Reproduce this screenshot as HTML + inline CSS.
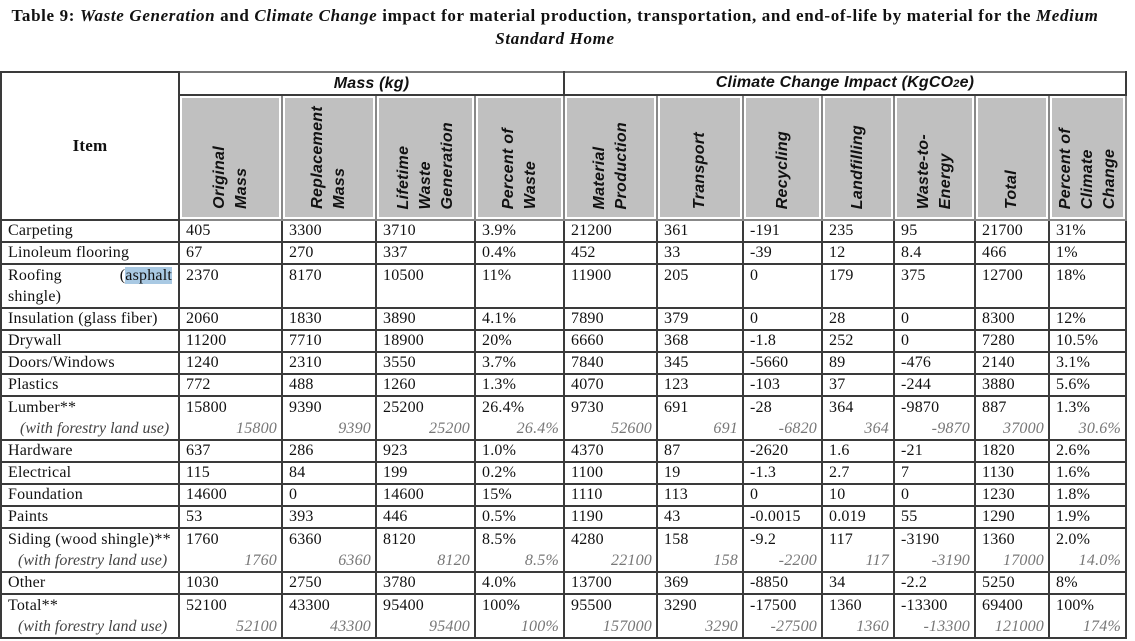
<!DOCTYPE html>
<html><head><meta charset="utf-8"><style>
body{margin:0;background:#fff;width:1135px;height:641px;overflow:hidden;font-family:"Liberation Serif",serif;color:#111}
.title{position:absolute;left:0;top:4px;width:1110px;text-align:center;font-weight:bold;font-size:17px;letter-spacing:0.65px;line-height:23px}
table{position:absolute;left:0;top:71px;border-collapse:collapse;table-layout:fixed;font-size:16px;letter-spacing:0.2px}
td,th{border:2px solid #3a3a3a;padding:0 0 0 6px;vertical-align:top;line-height:20px;overflow:hidden;white-space:nowrap}
tr.s td{height:20px;line-height:19px}
tr.d td{height:42px;line-height:21px}
th.g{background:#c0c0c0;box-shadow:inset 0 0 0 2px #fff;vertical-align:bottom;padding:0 0 4px 0;border-color:#888}
th .v{writing-mode:vertical-rl;transform:rotate(180deg);font-family:"Liberation Sans",sans-serif;font-style:italic;font-weight:bold;font-size:16px;line-height:22px;letter-spacing:0.3px;text-align:left;margin:0 auto;display:inline-block;white-space:nowrap}
th.g{text-align:center}
th.top{font-family:"Liberation Sans",sans-serif;font-style:italic;font-weight:bold;font-size:16px;vertical-align:middle;padding:0;height:20px;border-top-color:#777}
th.item{font-size:17px;font-weight:bold;vertical-align:middle;text-align:center;padding:0}
.f{display:block;font-style:italic;color:#777;text-align:right;padding-right:4px}
.fi{display:block;font-style:italic;color:#444;padding-left:12px;letter-spacing:0}
.hl{background:#a9c9e3}
</style></head><body>
<div class="title">Table 9: <i>Waste Generation</i> and <i>Climate Change</i> impact for material production, transportation, and end-of-life by material for the <i>Medium</i><br><i>Standard Home</i></div>
<table>
<colgroup><col style="width:178px"><col style="width:103px"><col style="width:94px"><col style="width:99px"><col style="width:89px"><col style="width:93px"><col style="width:86px"><col style="width:79px"><col style="width:72px"><col style="width:81px"><col style="width:74px"><col style="width:77px"></colgroup>
<tr><th class="item" rowspan="2">Item</th><th class="top" colspan="4">Mass (kg)</th><th class="top" colspan="7">Climate Change Impact (KgCO<span style="font-size:11px">2</span>e)</th></tr>
<tr style="height:125px">
<th class="g"><span class="v">Original<br>Mass</span></th>
<th class="g"><span class="v">Replacement<br>Mass</span></th>
<th class="g"><span class="v">Lifetime<br>Waste<br>Generation</span></th>
<th class="g"><span class="v">Percent of<br>Waste</span></th>
<th class="g"><span class="v">Material<br>Production</span></th>
<th class="g"><span class="v">Transport</span></th>
<th class="g"><span class="v">Recycling</span></th>
<th class="g"><span class="v">Landfilling</span></th>
<th class="g"><span class="v">Waste-to-<br>Energy</span></th>
<th class="g"><span class="v">Total</span></th>
<th class="g"><span class="v">Percent of<br>Climate<br>Change</span></th>
</tr>
<tr class="s"><td>Carpeting</td><td>405</td><td>3300</td><td>3710</td><td>3.9%</td><td>21200</td><td>361</td><td>-191</td><td>235</td><td>95</td><td>21700</td><td>31%</td></tr>
<tr class="s"><td>Linoleum flooring</td><td>67</td><td>270</td><td>337</td><td>0.4%</td><td>452</td><td>33</td><td>-39</td><td>12</td><td>8.4</td><td>466</td><td>1%</td></tr>
<tr class="d"><td style="white-space:normal;padding-right:6px;text-align:justify;text-align-last:left">Roofing&nbsp;&nbsp;&nbsp;&nbsp;&nbsp;&nbsp;&nbsp;&nbsp;&nbsp;&nbsp;&nbsp; (<span class="hl">asphalt</span> shingle)</td><td>2370</td><td>8170</td><td>10500</td><td>11%</td><td>11900</td><td>205</td><td>0</td><td>179</td><td>375</td><td>12700</td><td>18%</td></tr>
<tr class="s"><td>Insulation (glass fiber)</td><td>2060</td><td>1830</td><td>3890</td><td>4.1%</td><td>7890</td><td>379</td><td>0</td><td>28</td><td>0</td><td>8300</td><td>12%</td></tr>
<tr class="s"><td>Drywall</td><td>11200</td><td>7710</td><td>18900</td><td>20%</td><td>6660</td><td>368</td><td>-1.8</td><td>252</td><td>0</td><td>7280</td><td>10.5%</td></tr>
<tr class="s"><td>Doors/Windows</td><td>1240</td><td>2310</td><td>3550</td><td>3.7%</td><td>7840</td><td>345</td><td>-5660</td><td>89</td><td>-476</td><td>2140</td><td>3.1%</td></tr>
<tr class="s"><td>Plastics</td><td>772</td><td>488</td><td>1260</td><td>1.3%</td><td>4070</td><td>123</td><td>-103</td><td>37</td><td>-244</td><td>3880</td><td>5.6%</td></tr>
<tr class="d"><td>Lumber**<span class="fi">(with forestry land use)</span></td><td>15800<span class="f">15800</span></td><td>9390<span class="f">9390</span></td><td>25200<span class="f">25200</span></td><td>26.4%<span class="f">26.4%</span></td><td>9730<span class="f">52600</span></td><td>691<span class="f">691</span></td><td>-28<span class="f">-6820</span></td><td>364<span class="f">364</span></td><td>-9870<span class="f">-9870</span></td><td>887<span class="f">37000</span></td><td>1.3%<span class="f">30.6%</span></td></tr>
<tr class="s"><td>Hardware</td><td>637</td><td>286</td><td>923</td><td>1.0%</td><td>4370</td><td>87</td><td>-2620</td><td>1.6</td><td>-21</td><td>1820</td><td>2.6%</td></tr>
<tr class="s"><td>Electrical</td><td>115</td><td>84</td><td>199</td><td>0.2%</td><td>1100</td><td>19</td><td>-1.3</td><td>2.7</td><td>7</td><td>1130</td><td>1.6%</td></tr>
<tr class="s"><td>Foundation</td><td>14600</td><td>0</td><td>14600</td><td>15%</td><td>1110</td><td>113</td><td>0</td><td>10</td><td>0</td><td>1230</td><td>1.8%</td></tr>
<tr class="s"><td>Paints</td><td>53</td><td>393</td><td>446</td><td>0.5%</td><td>1190</td><td>43</td><td>-0.0015</td><td>0.019</td><td>55</td><td>1290</td><td>1.9%</td></tr>
<tr class="d"><td>Siding (wood shingle)**<span class="fi" style="padding-left:10px">(with forestry land use)</span></td><td>1760<span class="f">1760</span></td><td>6360<span class="f">6360</span></td><td>8120<span class="f">8120</span></td><td>8.5%<span class="f">8.5%</span></td><td>4280<span class="f">22100</span></td><td>158<span class="f">158</span></td><td>-9.2<span class="f">-2200</span></td><td>117<span class="f">117</span></td><td>-3190<span class="f">-3190</span></td><td>1360<span class="f">17000</span></td><td>2.0%<span class="f">14.0%</span></td></tr>
<tr class="s"><td>Other</td><td>1030</td><td>2750</td><td>3780</td><td>4.0%</td><td>13700</td><td>369</td><td>-8850</td><td>34</td><td>-2.2</td><td>5250</td><td>8%</td></tr>
<tr class="d"><td>Total**<span class="fi" style="padding-left:10px">(with forestry land use)</span></td><td>52100<span class="f">52100</span></td><td>43300<span class="f">43300</span></td><td>95400<span class="f">95400</span></td><td>100%<span class="f">100%</span></td><td>95500<span class="f">157000</span></td><td>3290<span class="f">3290</span></td><td>-17500<span class="f">-27500</span></td><td>1360<span class="f">1360</span></td><td>-13300<span class="f">-13300</span></td><td>69400<span class="f">121000</span></td><td>100%<span class="f">174%</span></td></tr>
</table>
</body></html>
